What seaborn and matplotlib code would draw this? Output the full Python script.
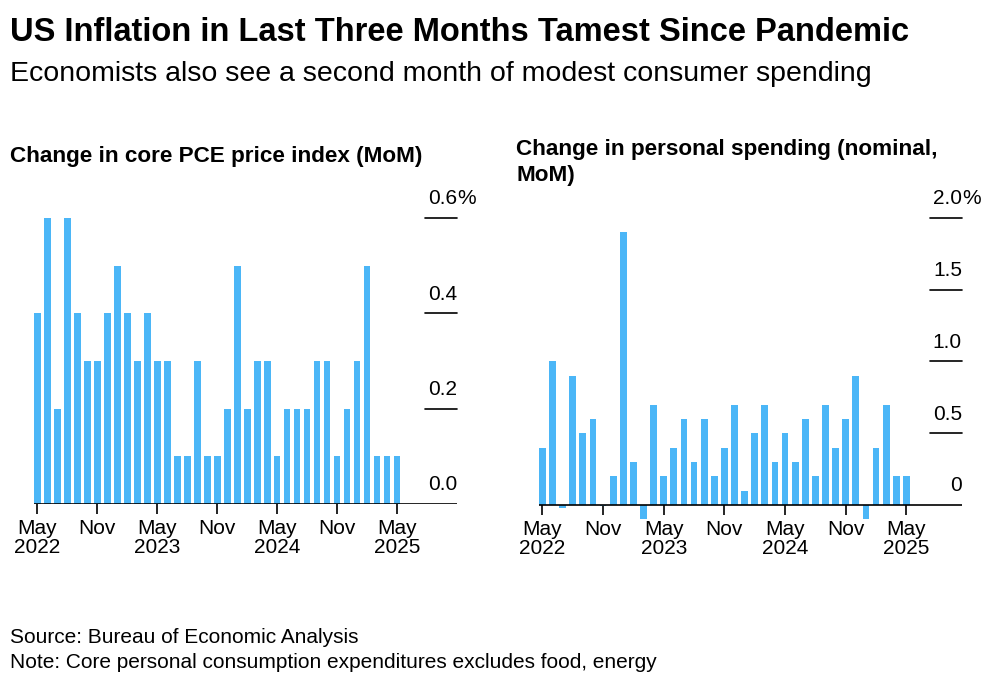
import pandas as pd
import numpy as np
import matplotlib
matplotlib.use("Agg")
import matplotlib.pyplot as plt
import seaborn as sns

# Monthly data, May 2022 .. May 2025 (37 months)
months = pd.date_range("2022-05-01", "2025-05-01", freq="MS")

core_pce = [0.4, 0.6, 0.2, 0.6, 0.4, 0.3, 0.3, 0.4, 0.5, 0.4, 0.3, 0.4,
            0.3, 0.3, 0.1, 0.1, 0.3, 0.1, 0.1, 0.2, 0.5, 0.2, 0.3, 0.3,
            0.1, 0.2, 0.2, 0.2, 0.3, 0.3, 0.1, 0.2, 0.3, 0.5, 0.1, 0.1, 0.1]

spending = [0.4, 1.0, -0.02, 0.9, 0.5, 0.6, -0.01, 0.2, 1.9, 0.3, -0.1, 0.7,
            0.2, 0.4, 0.6, 0.3, 0.6, 0.2, 0.4, 0.7, 0.1, 0.5, 0.7, 0.3,
            0.5, 0.3, 0.6, 0.2, 0.7, 0.4, 0.6, 0.9, -0.1, 0.4, 0.7, 0.2, 0.2]

tick_pos = [0, 6, 12, 18, 24, 30, 36]
tick_labels = ["May\n2022", "Nov", "May\n2023", "Nov", "May\n2024", "Nov", "May\n2025"]

left_yticks = [0.0, 0.2, 0.4, 0.6]
left_ylabels = ["0.0", "0.2", "0.4", "0.6"]
right_yticks = [0.0, 0.5, 1.0, 1.5, 2.0]
right_ylabels = ["0", "0.5", "1.0", "1.5", "2.0"]

df = pd.DataFrame({
    "month": months.strftime("%Y-%m"),
    "core_pce": core_pce,
    "spending": spending,
})

sns.set_theme(style="white")
plt.rcParams["font.family"] = ["Liberation Sans", "DejaVu Sans"]
plt.rcParams["text.color"] = "black"
plt.rcParams["xtick.color"] = "black"
plt.rcParams["xtick.labelcolor"] = "black"

BLUE = "#4BB6F7"
W, H = 1000, 684
TICK_FS = 15
fig = plt.figure(figsize=(10, 6.84), dpi=100)


def px_axes(x0, x1, y_top, y_bot):
    # axes rectangle given in pixel coordinates (origin top-left)
    return fig.add_axes([x0 / W, 1 - y_bot / H, (x1 - x0) / W, (y_bot - y_top) / H])


def style_panel(ax, col, ylim, yticks, ylabels, xlim):
    sns.barplot(data=df, x="month", y=col, color=BLUE, width=0.67,
                saturation=1, linewidth=0, ax=ax, zorder=2)
    ax.set_xlim(*xlim)
    ax.set_ylim(*ylim)
    for s in ax.spines.values():
        s.set_visible(False)
    ax.spines["bottom"].set_position(("data", 0))
    ax.axhline(0, color="black", lw=1.2, zorder=3)
    ax.set_xlabel("")
    ax.set_ylabel("")
    ax.set_yticks([])
    ax.set_xticks(tick_pos)
    ax.set_xticklabels(tick_labels, fontsize=TICK_FS, linespacing=1.0)
    ax.tick_params(axis="x", bottom=True, length=7, width=1.2, color="black",
                   pad=4, direction="out")
    ax.xaxis.set_ticks_position("bottom")
    # right-hand value labels sitting above short rule lines
    tr = ax.get_yaxis_transform()
    for i, (v, lab) in enumerate(zip(yticks, ylabels)):
        if v != 0:
            ax.plot([0.925, 1.0], [v, v], transform=tr, color="black", lw=1.2,
                    clip_on=False, zorder=3)
        ax.annotate(lab, xy=(1.0, v), xycoords=tr, xytext=(0, 7),
                    textcoords="offset points", ha="right", va="bottom",
                    fontsize=TICK_FS)
        if i == len(yticks) - 1:
            ax.annotate("%", xy=(1.0, v), xycoords=tr, xytext=(0, 7),
                        textcoords="offset points", ha="left", va="bottom",
                        fontsize=TICK_FS)


# Left: core PCE (zero at y=504, 0.6 at y=218)
axL = px_axes(34, 457, 218, 504)
style_panel(axL, "core_pce", (0, 0.6), left_yticks, left_ylabels, (-0.335, 42))

# Right: personal spending (zero at y=505, 2.0 at y=218)
ymin_r = -0.15
y_bot_r = 505 + (505 - 218) / 2.0 * (-ymin_r)
axR = px_axes(539, 962, 218, y_bot_r)
style_panel(axR, "spending", (ymin_r, 2.0), right_yticks, right_ylabels, (-0.335, 41.5))

# Texts
fig.text(10 / W, 1 - 41 / H, "US Inflation in Last Three Months Tamest Since Pandemic",
         fontsize=23.5, fontweight="bold", ha="left", va="baseline")
fig.text(10 / W, 1 - 81 / H, "Economists also see a second month of modest consumer spending",
         fontsize=20.5, ha="left", va="baseline")
fig.text(10 / W, 1 - 162 / H, "Change in core PCE price index (MoM)",
         fontsize=16.2, fontweight="bold", ha="left", va="baseline")
fig.text(516 / W, 1 - 155 / H, "Change in personal spending (nominal,",
         fontsize=16.2, fontweight="bold", ha="left", va="baseline")
fig.text(516 / W, 1 - 181 / H, "MoM)",
         fontsize=16.2, fontweight="bold", ha="left", va="baseline")
fig.text(10 / W, 1 - 643 / H, "Source: Bureau of Economic Analysis",
         fontsize=15, ha="left", va="baseline")
fig.text(10 / W, 1 - 668 / H, "Note: Core personal consumption expenditures excludes food, energy",
         fontsize=15, ha="left", va="baseline")

fig.savefig("out.png", dpi=100, facecolor="white")
